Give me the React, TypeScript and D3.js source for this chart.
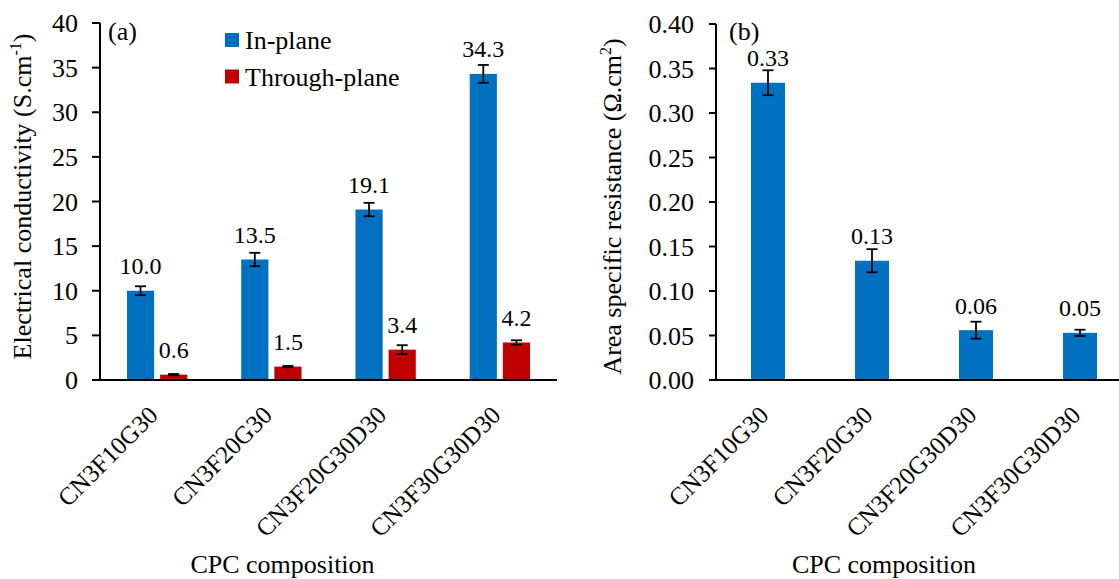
import React from "react";
import * as d3 from "d3";

const categories = ["CN3F10G30", "CN3F20G30", "CN3F20G30D30", "CN3F30G30D30"];
const seriesNames = ["In-plane", "Through-plane"];
const inPlane = [10.0, 13.5, 19.1, 34.3];
const inPlaneErr = [0.5, 0.75, 0.75, 1.0];
const throughPlane = [0.6, 1.5, 3.4, 4.2];
const throughPlaneErr = [0.07, 0.07, 0.5, 0.25];
const condTicks = [0, 5, 10, 15, 20, 25, 30, 35, 40];

const asr = [0.334, 0.134, 0.056, 0.053];
const asrErr = [0.014, 0.013, 0.0095, 0.0035];
const asrTicks = [0, 0.05, 0.1, 0.15, 0.2, 0.25, 0.3, 0.35, 0.4];

const BLUE = "#0070C0";
const RED = "#C00000";
const FF = "Times New Roman";

function ErrorBar({ x, y0, y1 }: { x: number; y0: number; y1: number }) {
  const cap = 5.5;
  return (
    <g stroke="#000" strokeWidth={1.8}>
      <line x1={x} x2={x} y1={y0} y2={y1} />
      <line x1={x - cap} x2={x + cap} y1={y0} y2={y0} />
      <line x1={x - cap} x2={x + cap} y1={y1} y2={y1} />
    </g>
  );
}

function T(props: any) {
  const { children, ...rest } = props;
  return (
    <text fontFamily={FF} style={{ fontFamily: FF }} {...rest}>
      {children}
    </text>
  );
}

function XLabels({ x, cats }: { x: (c: string) => number; cats: string[] }) {
  return (
    <g>
      {cats.map((c) => (
        <T
          key={c}
          transform={`translate(${x(c) - 4},${410.5}) rotate(-45)`}
          textAnchor="end"
          dy="0.35em"
          fontSize={25}
        >
          {c}
        </T>
      ))}
    </g>
  );
}

export default function App() {
  // Left chart (a)
  const xA = d3.scaleBand<string>().domain(categories).range([100, 557]).paddingInner(0).paddingOuter(0);
  const bwA = xA.bandwidth();
  const xSub = d3
    .scaleBand<string>()
    .domain(seriesNames)
    .range([bwA * 0.236, bwA * 0.764])
    .paddingInner(0.18)
    .paddingOuter(0);
  const yA = d3.scaleLinear().domain([0, 40]).range([380, 23]);
  const seriesData = [
    { name: seriesNames[0], values: inPlane, errs: inPlaneErr, color: BLUE },
    { name: seriesNames[1], values: throughPlane, errs: throughPlaneErr, color: RED },
  ];

  // Right chart (b)
  const xB = d3.scaleBand<string>().domain(categories).range([716, 1132]).paddingInner(0.673).paddingOuter(0.3365);
  const yB = d3.scaleLinear().domain([0, 0.4]).range([380, 24]);

  return (
    <svg width={1119} height={579} style={{ position: "absolute", left: 0, top: 0, fontFamily: FF }} fontFamily={FF}>
      <rect x={0} y={0} width={1119} height={579} fill="#fff" />

      {/* ===== Chart (a) ===== */}
      {seriesData.map((s) => (
        <g key={s.name}>
          {categories.map((c, i) => {
            const bx = (xA(c) as number) + (xSub(s.name) as number);
            const bw = xSub.bandwidth();
            const cx = bx + bw / 2;
            const v = s.values[i];
            return (
              <g key={c}>
                <rect x={bx} y={yA(v)} width={bw} height={yA(0) - yA(v)} fill={s.color} />
                <ErrorBar x={cx} y0={yA(v + s.errs[i])} y1={yA(v - s.errs[i])} />
                <T x={cx} y={yA(v) - 16.5} textAnchor="middle" fontSize={24}>
                  {v.toFixed(1)}
                </T>
              </g>
            );
          })}
        </g>
      ))}
      {/* y axis */}
      <g>
        <line x1={100} x2={100} y1={yA(40)} y2={yA(0)} stroke="#000" strokeWidth={2} />
        {condTicks.map((t) => (
          <g key={t}>
            <line x1={92} x2={100} y1={yA(t)} y2={yA(t)} stroke="#000" strokeWidth={2} />
            <T x={78} y={yA(t)} dy="0.35em" textAnchor="end" fontSize={26}>
              {String(t)}
            </T>
          </g>
        ))}
      </g>
      <line x1={99} x2={557} y1={380} y2={380} stroke="#000" strokeWidth={2} />
      <XLabels x={(c) => (xA(c) as number) + bwA / 2} cats={categories} />
      <T transform="translate(31,196.5) rotate(-90)" textAnchor="middle" fontSize={26}>
        Electrical conductivity (S.cm
        <tspan fontSize={16} dy={-10}>-1</tspan>
        <tspan dy={10}>)</tspan>
      </T>
      <T x={282.5} y={573} textAnchor="middle" fontSize={26}>
        CPC composition
      </T>
      <T x={108} y={40} fontSize={26}>
        (a)
      </T>
      {/* legend */}
      {seriesData.map((s, i) => (
        <g key={s.name} transform={`translate(225,${33 + i * 36.5})`}>
          <rect x={0} y={0} width={14} height={14} fill={s.color} />
          <T x={20} y={7} dy="0.35em" fontSize={26}>
            {s.name}
          </T>
        </g>
      ))}

      {/* ===== Chart (b) ===== */}
      {categories.map((c, i) => {
        const bx = xB(c) as number;
        const bw = xB.bandwidth();
        const cx = bx + bw / 2;
        const v = asr[i];
        return (
          <g key={c}>
            <rect x={bx} y={yB(v)} width={bw} height={yB(0) - yB(v)} fill={BLUE} />
            <ErrorBar x={cx} y0={yB(v + asrErr[i])} y1={yB(v - asrErr[i])} />
            <T x={cx} y={yB(v) - 16.5} textAnchor="middle" fontSize={24}>
              {v.toFixed(2)}
            </T>
          </g>
        );
      })}
      <g>
        <line x1={716} x2={716} y1={yB(0.4)} y2={yB(0)} stroke="#000" strokeWidth={2} />
        {asrTicks.map((t) => (
          <g key={t}>
            <line x1={709} x2={716} y1={yB(t)} y2={yB(t)} stroke="#000" strokeWidth={2} />
            <T x={694} y={yB(t)} dy="0.35em" textAnchor="end" fontSize={26}>
              {t.toFixed(2)}
            </T>
          </g>
        ))}
      </g>
      <line x1={715} x2={1132} y1={380} y2={380} stroke="#000" strokeWidth={2} />
      <XLabels x={(c) => (xB(c) as number) + xB.bandwidth() / 2} cats={categories} />
      <T transform="translate(621,206.5) rotate(-90)" textAnchor="middle" fontSize={26}>
        Area specific resistance (Ω.cm
        <tspan fontSize={16} dy={-10}>2</tspan>
        <tspan dy={10}>)</tspan>
      </T>
      <T x={884} y={573} textAnchor="middle" fontSize={26}>
        CPC composition
      </T>
      <T x={729} y={40} fontSize={26}>
        (b)
      </T>
    </svg>
  );
}
